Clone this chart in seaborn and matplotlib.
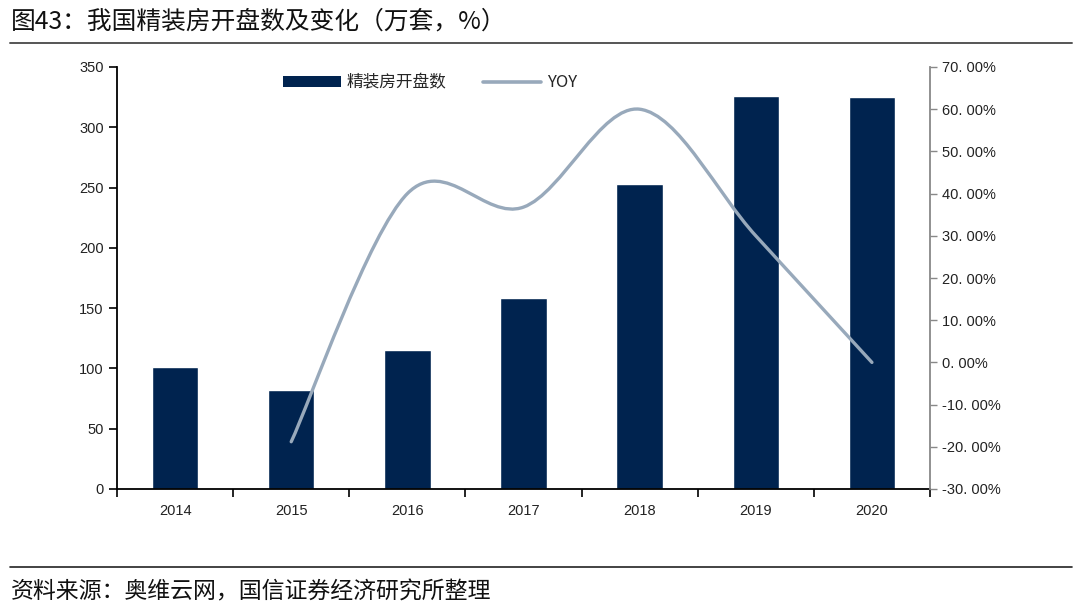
import numpy as np
import pandas as pd
import seaborn as sns
import matplotlib.pyplot as plt
from matplotlib.path import Path
from matplotlib.patches import PathPatch, Patch
from matplotlib.lines import Line2D
from matplotlib.ticker import FuncFormatter

years = ['2014', '2015', '2016', '2017', '2018', '2019', '2020']
units = [101, 82, 115, 158, 253, 326, 325]  # 万套
yoy_years = ['2015', '2016', '2017', '2018', '2019', '2020']
yoy = [-18.8, 40.0, 36.8, 60.0, 30.0, 0.0]  # %

bar_color = '#00234F'
line_color = '#98A9BB'

sns.set_theme(style='white')
plt.rcParams['font.family'] = ['Liberation Sans', 'Noto Sans CJK SC']
plt.rcParams['axes.unicode_minus'] = True
cjk = ['Noto Sans CJK SC', 'DejaVu Sans']

fig = plt.figure(figsize=(10.8, 6.07), dpi=100)
ax = fig.add_axes([117/1080, 1-489/607, (930-117)/1080, (489-67)/607])

df = pd.DataFrame({'year': years, 'units': units})
sns.barplot(data=df, x='year', y='units', color=bar_color, width=0.4,
            saturation=1, ax=ax)
ax.set_xlim(-0.5, len(years) - 0.5)
ax.set_ylim(0, 350)
ax.set_yticks(range(0, 351, 50))
ax.set_xlabel('')
ax.set_ylabel('')
ax.set_xticks(np.arange(-0.5, len(years), 1.0))
ax.set_xticklabels([])
ax.set_xticks(range(len(years)), minor=True)
ax.set_xticklabels(years, minor=True)
ax.tick_params(axis='x', which='major', direction='out', length=6, width=1.2, color='black', bottom=True)
ax.tick_params(axis='x', which='minor', length=0, pad=11, labelsize=10.5, labelcolor='#222222')
ax.tick_params(axis='y', direction='out', length=6, width=1.2, color='black', left=True,
               labelsize=10.5, labelcolor='#222222')
for s in ['top', 'right']:
    ax.spines[s].set_visible(False)
for s in ['left', 'bottom']:
    ax.spines[s].set_color('black')
    ax.spines[s].set_linewidth(1.3)

# secondary axis for YOY
ax2 = ax.twinx()
ax2.set_ylim(-30, 70)
ax2.set_yticks(range(-30, 71, 10))
ax2.yaxis.set_major_formatter(FuncFormatter(lambda v, p: f'{v:.2f}'.replace('.', '. ') + '%'))
ax2.tick_params(axis='y', direction='out', length=5, width=1.0, color='#888888', right=True,
                labelsize=10.5, labelcolor='#222222')
for s in ['top', 'left', 'bottom']:
    ax2.spines[s].set_visible(False)
ax2.spines['right'].set_color('#888888')
ax2.spines['right'].set_linewidth(1.3)
ax2.grid(False)
ax.grid(False)

# smoothed line: cubic bezier segments through the data points
xs = [years.index(y) for y in yoy_years]
pts = np.column_stack([xs, yoy]).astype(float)
n = len(pts)
verts = [tuple(pts[0])]
codes = [Path.MOVETO]
for i in range(n - 1):
    p0 = pts[max(i - 1, 0)]
    p1 = pts[i]
    p2 = pts[i + 1]
    p3 = pts[min(i + 2, n - 1)]
    c1 = p1 + (p2 - p0) / 6.0
    c2 = p2 - (p3 - p1) / 6.0
    verts += [tuple(c1), tuple(c2), tuple(p2)]
    codes += [Path.CURVE4] * 3
ax2.add_patch(PathPatch(Path(verts, codes), facecolor='none', edgecolor=line_color,
                        lw=2.4, capstyle='round'))

handles = [Patch(facecolor=bar_color, edgecolor='none', label='精装房开盘数'),
           Line2D([0], [0], color=line_color, lw=2.6, label='YOY')]
leg = ax.legend(handles=handles, loc='upper center', bbox_to_anchor=(0.385, 1.018), ncol=2,
                frameon=False, handlelength=3.5, handleheight=0.7,
                columnspacing=2.2, handletextpad=0.35, prop={'family': cjk, 'size': 12})

# header / footer
fig.text(11/1080, 1-22/607, '图43：我国精装房开盘数及变化（万套，%）', fontsize=17.8,
         va='center', ha='left', color='#111111', family=cjk)
fig.add_artist(Line2D([10/1080, 1072/1080], [1-43/607, 1-43/607], color='#555555', lw=1.4))
fig.add_artist(Line2D([10/1080, 1072/1080], [1-567/607, 1-567/607], color='#222222', lw=1.2))
fig.text(11/1080, 1-592/607, '资料来源：奥维云网，国信证券经济研究所整理', fontsize=16.5,
         va='center', ha='left', color='#111111', family=cjk)

fig.savefig('out.png', dpi=100)
